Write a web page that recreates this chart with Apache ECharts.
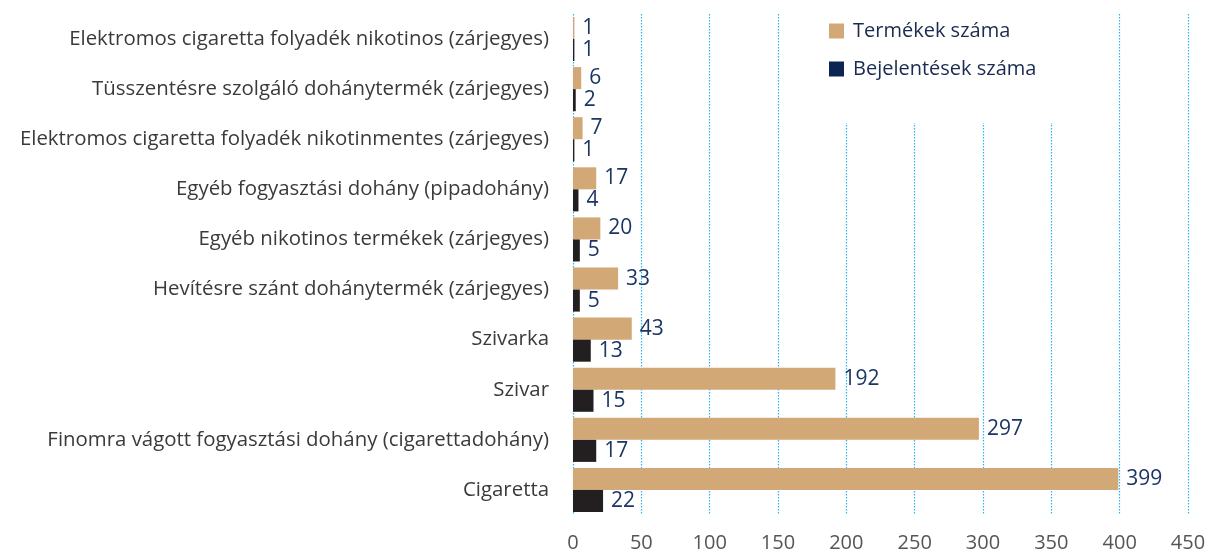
<!DOCTYPE html>
<html>
<head>
<meta charset="utf-8">
<script src="https://cdn.jsdelivr.net/npm/echarts@6/dist/echarts.min.js"></script>
<style>html,body{margin:0;padding:0;background:#fff}#c{width:1210px;height:554px}</style>
</head>
<body>
<div id="c"></div>
<script>
const categories = [
  'Elektromos cigaretta folyadék nikotinos (zárjegyes)',
  'Tüsszentésre szolgáló dohánytermék (zárjegyes)',
  'Elektromos cigaretta folyadék nikotinmentes (zárjegyes)',
  'Egyéb fogyasztási dohány (pipadohány)',
  'Egyéb nikotinos termékek (zárjegyes)',
  'Hevítésre szánt dohánytermék (zárjegyes)',
  'Szivarka',
  'Szivar',
  'Finomra vágott fogyasztási dohány (cigarettadohány)',
  'Cigaretta'
];
const termekek = [1, 6, 7, 17, 20, 33, 43, 192, 297, 399];
const bejelentesek = [1, 2, 1, 4, 5, 5, 13, 15, 17, 22];
const xTicks = [0, 50, 100, 150, 200, 250, 300, 350, 400, 450];

const FONT = 'Open Sans';
const chart = echarts.init(document.getElementById('c'), null, {renderer: 'canvas'});
const labelStyle = {show: true, position: 'right', distance: 8, color: '#1B3564', fontSize: 21, fontFamily: FONT};
chart.setOption({
  animation: false,
  textStyle: {fontFamily: FONT},
  grid: {left: 573, right: 22, top: 14, bottom: 39, containLabel: false},
  legend: {
    orient: 'vertical', left: 824, top: 16, itemWidth: 15, itemHeight: 15, itemGap: 18,
    icon: 'rect',
    textStyle: {color: '#1B2B4F', fontSize: 20, fontFamily: FONT, padding: [0,0,0,4]},
    data: [
      {name: 'Termékek száma', itemStyle: {color: '#D2A877'}},
      {name: 'Bejelentések száma', itemStyle: {color: '#0B2452'}}
    ]
  },
  graphic: [{type: 'rect', left: 800, top: 0, z: 1, shape: {width: 280, height: 123}, style: {fill: '#fff'}}],
  xAxis: {
    type: 'value', min: xTicks[0], max: xTicks[xTicks.length - 1], interval: 50,
    axisLine: {show: false}, axisTick: {show: false},
    axisLabel: {color: '#555', fontSize: 20, fontFamily: FONT, margin: 18},
    splitLine: {show: true, showMinLine: true, lineStyle: {color: '#29B6F6', type: [1.5, 1.5], width: 1.2}}
  },
  yAxis: {
    type: 'category', data: categories, inverse: true,
    axisLine: {show: false}, axisTick: {show: false},
    axisLabel: {color: '#3A3A3A', fontSize: 20.4, fontFamily: FONT, margin: 24}
  },
  series: [
    {name: 'Termékek száma', type: 'bar', data: termekek, barGap: '0%', barCategoryGap: '12%',
     itemStyle: {color: '#D2A877'}, label: labelStyle},
    {name: 'Bejelentések száma', type: 'bar', data: bejelentesek,
     itemStyle: {color: '#231F20'}, label: labelStyle}
  ]
});
</script>
</body>
</html>
